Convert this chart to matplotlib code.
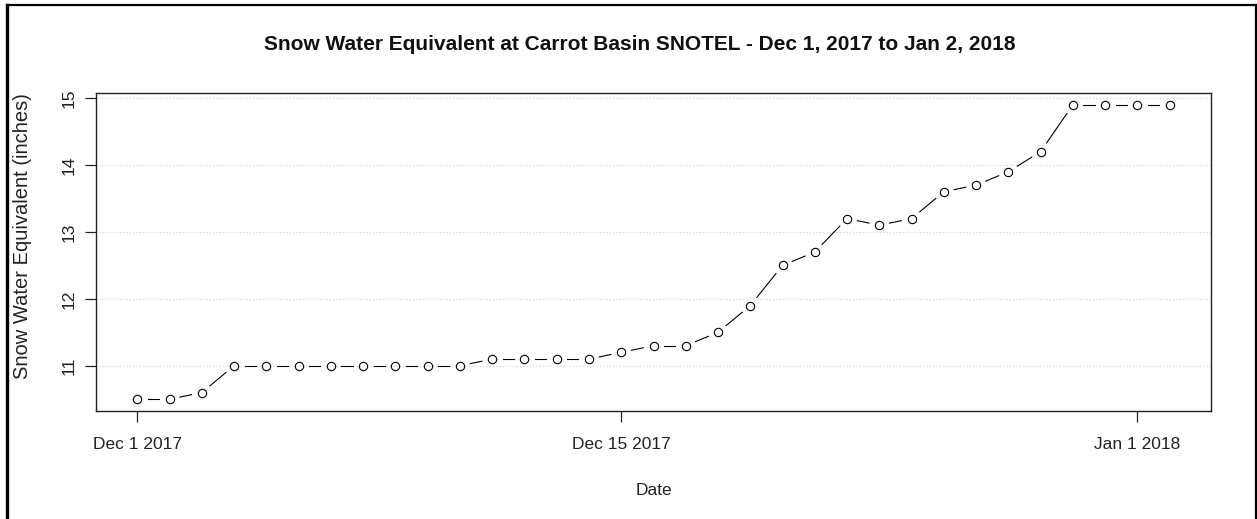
import numpy as np
import matplotlib
matplotlib.use("Agg")
import matplotlib.pyplot as plt
import matplotlib.dates as mdates
from matplotlib.lines import Line2D

# daily SWE readings, Dec 1 2017 .. Jan 2 2018
DATES = np.arange(np.datetime64("2017-12-01"), np.datetime64("2018-01-03"))
SWE = [10.5, 10.5, 10.6, 11.0, 11.0, 11.0, 11.0, 11.0, 11.0, 11.0, 11.0,
       11.1, 11.1, 11.1, 11.1, 11.2, 11.3, 11.3, 11.5, 11.9, 12.5, 12.7,
       13.2, 13.1, 13.2, 13.6, 13.7, 13.9, 14.2, 14.9, 14.9, 14.9, 14.9]

TICK_DATES = np.array(["2017-12-01", "2017-12-16", "2018-01-01"], dtype="datetime64[D]")
TICK_LABELS = ["Dec 1 2017", "Dec 15 2017", "Jan 1 2018"]
Y_TICKS = [11, 12, 13, 14, 15]

W, H = 1257, 519
GAP_PX = 10.5


def main():
    plt.rcParams.update({
        "font.family": ["Liberation Sans", "DejaVu Sans"],
        "font.size": 12,
    })
    fig = plt.figure(figsize=(W / 100, H / 100), dpi=100)
    ax = fig.add_axes([96 / W, 1 - 411 / H, (1211 - 96) / W, (411 - 93) / H])

    x = mdates.date2num(DATES.astype("datetime64[s]").astype(object))
    y = np.array(SWE)

    # R style 4% axis extension
    xr = x[-1] - x[0]
    yr = y.max() - y.min()
    ax.set_xlim(x[0] - 0.04 * xr, x[-1] + 0.04 * xr)
    ax.set_ylim(y.min() - 0.04 * yr, y.max() + 0.04 * yr)

    for yv in Y_TICKS:
        ax.axhline(yv, color="#cfcfcf", linestyle=(0, (1, 2)), linewidth=0.8, zorder=1)

    # type="b": line segments with gaps around points
    pts = ax.transData.transform(np.column_stack([x, y]))
    inv = ax.transData.inverted()
    for p0, p1 in zip(pts[:-1], pts[1:]):
        d = p1 - p0
        L = np.hypot(*d)
        if L <= 2 * GAP_PX:
            continue
        u = d / L
        a = inv.transform(p0 + u * GAP_PX)
        b = inv.transform(p1 - u * GAP_PX)
        ax.plot([a[0], b[0]], [a[1], b[1]], color="black", linewidth=0.8, zorder=2)

    ax.plot(x, y, linestyle="none", marker="o", markersize=6.0,
            markerfacecolor="none", markeredgecolor="black", markeredgewidth=0.8, zorder=3)

    ax.set_yticks(Y_TICKS)
    ax.set_yticklabels([str(v) for v in Y_TICKS], rotation=90, va="center")
    ax.set_xticks(mdates.date2num(TICK_DATES.astype("datetime64[s]").astype(object)))
    ax.set_xticklabels(TICK_LABELS)
    ax.tick_params(axis="both", direction="out", length=8, width=0.9,
                   labelsize=12.5, colors="#222222", pad=11)
    ax.tick_params(axis="y", pad=6)
    for s in ax.spines.values():
        s.set_linewidth(1.0)
        s.set_color("#222222")

    ax.set_xlabel("Date", fontsize=12.5, color="#222222", labelpad=22)
    ax.set_ylabel("Snow Water Equivalent (inches)", fontsize=14.5, color="#222222")
    ax.yaxis.set_label_coords((32 - 96) / (1211 - 96), (411 - 236) / (411 - 93))

    fig.text(640 / W, 1 - 45 / H,
             "Snow Water Equivalent at Carrot Basin SNOTEL - Dec 1, 2017 to Jan 2, 2018",
             fontsize=15, fontweight="bold", ha="center", va="center", color="#111111")

    # screenshot border
    fig.add_artist(Line2D([7 / W, 7 / W], [0, 1 - 5 / H], color="black", linewidth=2.4))
    fig.add_artist(Line2D([7 / W, 1256 / W], [1 - 5 / H, 1 - 5 / H], color="black", linewidth=1.6))
    fig.add_artist(Line2D([1256 / W, 1256 / W], [0, 1 - 5 / H], color="black", linewidth=1.6))

    fig.savefig("out.png", dpi=100, facecolor="white")
    plt.close(fig)


if __name__ == "__main__":
    main()
